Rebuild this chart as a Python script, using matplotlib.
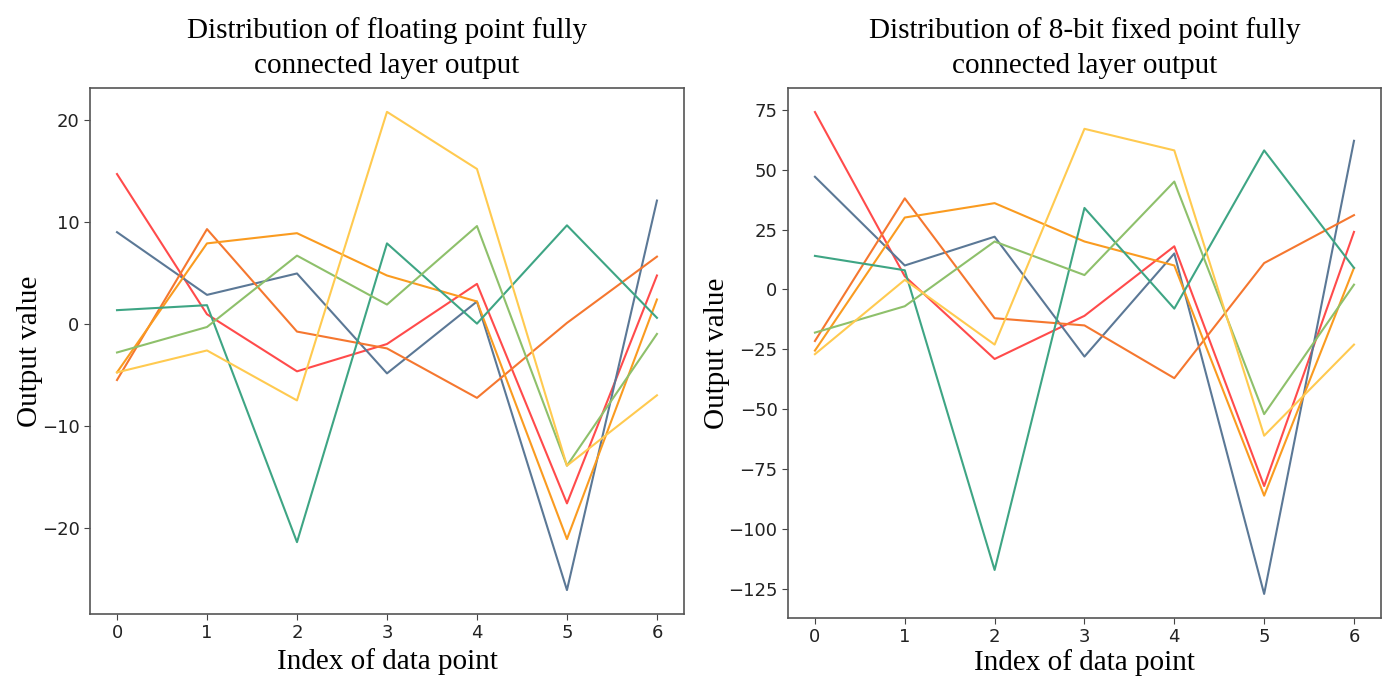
import matplotlib
matplotlib.use("Agg")
import matplotlib.pyplot as plt

# data point index
idx = [0, 1, 2, 3, 4, 5, 6]

# floating point fully connected layer output, one list per output neuron
float_red = [14.7, 0.95, -4.65, -1.97, 3.93, -17.6, 4.75]
float_blue = [9.0, 2.85, 4.95, -4.85, 2.2, -26.1, 12.1]
float_darkorange = [-5.5, 9.3, -0.75, -2.4, -7.25, 0.1, 6.6]
float_orange = [-4.75, 7.9, 8.9, 4.75, 2.2, -21.1, 2.4]
float_teal = [1.35, 1.84, -21.4, 7.9, 0.03, 9.67, 0.6]
float_green = [-2.8, -0.3, 6.7, 1.9, 9.6, -13.9, -0.98]
float_yellow = [-4.75, -2.6, -7.5, 20.8, 15.2, -13.9, -7.0]

# 8-bit fixed point output
fixed_red = [74, 5.5, -29, -11, 18, -82, 24]
fixed_blue = [47, 10, 22, -28, 15, -127, 62]
fixed_darkorange = [-21.5, 38, -12, -15, -37, 11, 31]
fixed_orange = [-25.5, 30, 36, 20, 10, -86, 9]
fixed_teal = [14, 8, -117, 34, -8, 58, 9]
fixed_green = [-18, -7, 20, 6, 45, -52, 2]
fixed_yellow = [-27, 4, -23, 67, 58, -61, -23]

colors = ["#ff4b4b", "#5b7896", "#f5772f", "#fa9b20", "#3ea584", "#8ec06b", "#ffca50"]

float_series = [float_red, float_blue, float_darkorange, float_orange,
                float_teal, float_green, float_yellow]
fixed_series = [fixed_red, fixed_blue, fixed_darkorange, fixed_orange,
                fixed_teal, fixed_green, fixed_yellow]

titles = ["Distribution of floating point fully\nconnected layer output",
          "Distribution of 8-bit fixed point fully\nconnected layer output"]

serif = "Liberation Serif"

fig = plt.figure(figsize=(13.89, 6.77), dpi=100)
ax1 = fig.add_axes([0.0648, 0.0931, 0.4276, 0.777])
ax2 = fig.add_axes([0.5673, 0.0871, 0.4269, 0.783])

for ax, series, title in [(ax1, float_series, titles[0]), (ax2, fixed_series, titles[1])]:
    for vals, c in zip(series, colors):
        ax.plot(idx, vals, color=c, linewidth=1.5)
    ax.set_title(title, fontsize=21, family=serif, pad=11, linespacing=1.45)
    ax.set_xlabel("Index of data point", fontsize=21, family=serif, labelpad=4)
    ax.set_ylabel("Output value", fontsize=21, family=serif)
    ax.set_xticks(idx)
    ax.tick_params(labelsize=13, labelcolor="#222222", color="#444444", length=4)
    for sp in ax.spines.values():
        sp.set_color("#555555")
        sp.set_linewidth(1.2)

ax1.yaxis.set_label_coords(-0.079, 0.5)
ax2.yaxis.set_label_coords(-0.098, 0.5)
ax2.xaxis.labelpad = 2
ax2.set_yticks([75, 50, 25, 0, -25, -50, -75, -100, -125])

fig.savefig("out.png", dpi=100)
